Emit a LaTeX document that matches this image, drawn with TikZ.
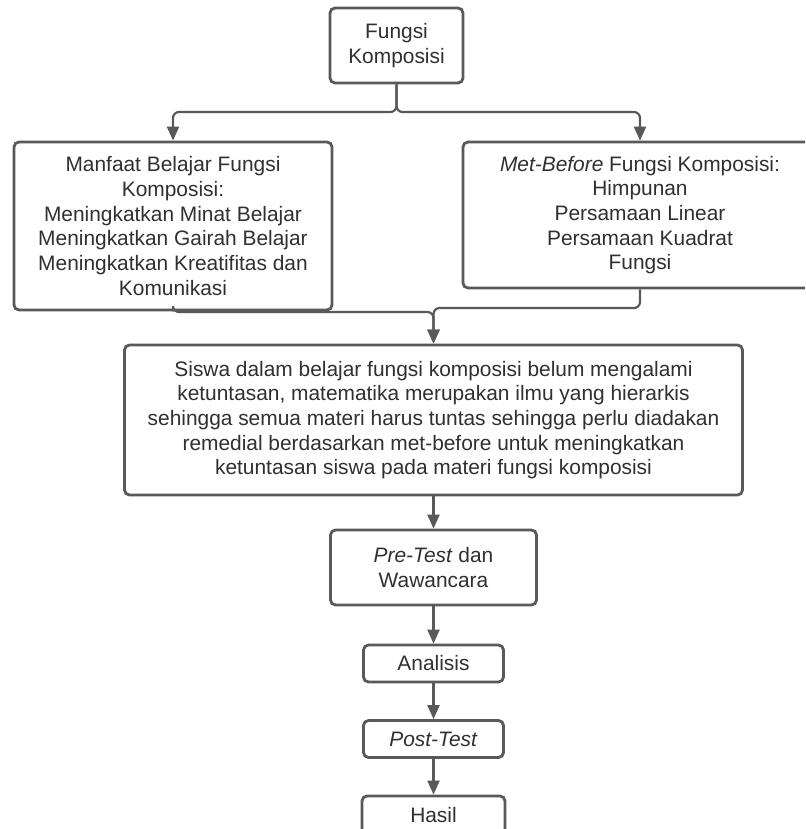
\documentclass[tikz,border=0pt]{standalone}
\usepackage{fontspec}
\setmainfont{Liberation Sans}
\usetikzlibrary{arrows.meta}
\definecolor{linegray}{HTML}{595959}
\definecolor{textgray}{HTML}{303030}
\begin{document}
\begin{tikzpicture}[x=1pt,y=1pt,
  box/.style={draw=linegray, line width=2.8pt, rounded corners=5pt, fill=white,
    text=textgray, align=center, inner sep=0pt,
    font=\fontsize{20.9}{24.7}\selectfont},
  conn/.style={draw=linegray, line width=2.2pt, rounded corners=6pt},
  arr/.style={conn, -{Triangle[length=14pt,width=12pt]}}]
\clip (0,0) rectangle (805,-829);
\fill[white] (0,0) rectangle (805,-829);
\node[box, minimum width=133pt, minimum height=75pt] (top) at (396.5,-45.5) {Fungsi\\Komposisi};
\node[box, minimum width=318pt, minimum height=168pt] (left) at (173,-226)
  {Manfaat Belajar Fungsi\\Komposisi:\\Meningkatkan Minat Belajar\\Meningkatkan Gairah Belajar\\Meningkatkan Kreatifitas dan\\Komunikasi};
\node[box, minimum width=354pt, minimum height=146pt] (right) at (640,-215)
  {\textit{Met-Before} Fungsi Komposisi:\\Himpunan\\Persamaan Linear\\Persamaan Kuadrat\\Fungsi};
\node[box, minimum width=618pt, minimum height=150pt] (mid) at (433.5,-420)
  {Siswa dalam belajar fungsi komposisi belum mengalami\\ketuntasan, matematika merupakan ilmu yang hierarkis\\sehingga semua materi harus tuntas sehingga perlu diadakan\\remedial berdasarkan met-before untuk meningkatkan\\ketuntasan siswa pada materi fungsi komposisi};
\node[box, minimum width=206pt, minimum height=75pt] (pre) at (433.5,-567.5) {\textit{Pre-Test} dan\\Wawancara};
\node[box, minimum width=140pt, minimum height=37pt] (ana) at (433.5,-663.5) {Analisis};
\node[box, minimum width=140pt, minimum height=37pt] (post) at (433.5,-739) {\textit{Post-Test}};
\node[box, minimum width=143pt, minimum height=38pt] (has) at (433.5,-815) {Hasil};
\coordinate (split) at (396.5,-112);
\coordinate (jl) at (433.5,-312);
\coordinate (jr) at (433.5,-308);
\draw[arr] (top.south) -- (split) -| (left.north);
\draw[arr] (top.south) -- (split) -| (right.north);
\draw[arr] (left.south) |- (jl) -- (mid.north);
\draw[arr] (right.south) |- (jr) -- (mid.north);
\draw[arr] (mid.south) -- (pre.north);
\draw[arr] (pre.south) -- (ana.north);
\draw[arr] (ana.south) -- (post.north);
\draw[arr] (post.south) -- (has.north);
\end{tikzpicture}
\end{document}
